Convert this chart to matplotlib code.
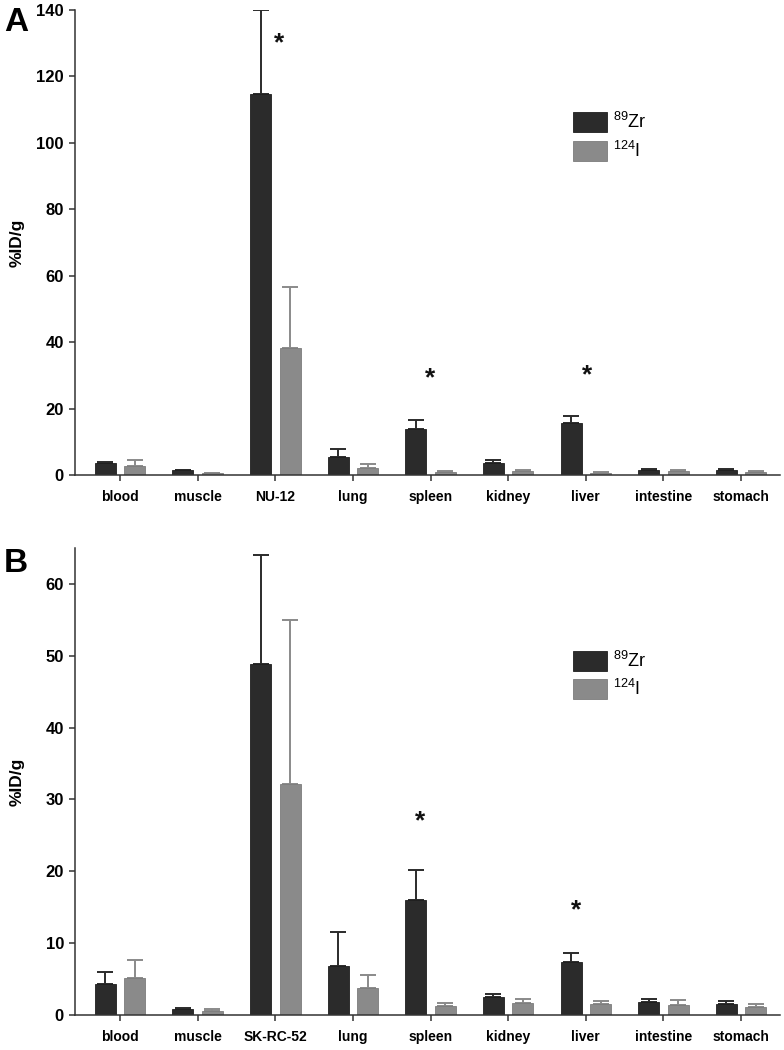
import numpy as np
import matplotlib
matplotlib.use("Agg")
import matplotlib.pyplot as plt

plt.rcParams['font.family'] = ['Liberation Sans', 'DejaVu Sans']
plt.rcParams['mathtext.fontset'] = 'custom'
plt.rcParams['mathtext.rm'] = 'Liberation Sans'

# panel A data
organs_a = ["blood", "muscle", "NU-12", "lung", "spleen", "kidney", "liver", "intestine", "stomach"]
zr_a = [3.7, 1.4, 114.8, 5.4, 13.8, 3.7, 15.8, 1.6, 1.6]
zr_a_err = [0.2, 0.1, 25.2, 2.3, 2.7, 0.8, 2.0, 0.1, 0.1]
i_a = [2.7, 0.6, 38.3, 2.0, 0.8, 1.1, 0.7, 1.1, 0.8]
i_a_err = [1.9, 0.1, 18.4, 1.4, 0.3, 0.4, 0.2, 0.3, 0.3]
stars_a = [(2.05, 130), (4, 29), (6.02, 30)]

# panel B data
organs_b = ["blood", "muscle", "SK-RC-52", "lung", "spleen", "kidney", "liver", "intestine", "stomach"]
zr_b = [4.3, 0.8, 48.8, 6.8, 16.0, 2.5, 7.4, 1.8, 1.6]
zr_b_err = [1.7, 0.2, 15.2, 4.8, 4.2, 0.4, 1.2, 0.5, 0.4]
i_b = [5.2, 0.6, 32.1, 3.7, 1.3, 1.7, 1.5, 1.4, 1.1]
i_b_err = [2.5, 0.2, 22.9, 1.9, 0.4, 0.5, 0.45, 0.65, 0.4]
stars_b = [(3.86, 27), (5.88, 14.6)]

dark = "#2b2b2b"
grey = "#8a8a8a"


def panel(ax, organs, zr, zr_err, iod, iod_err, stars, ymax, yticks):
    x = np.arange(len(organs))
    w = 0.27
    ax.bar(x - 0.19, zr, w, color=dark, edgecolor="#1e1e1e", linewidth=0.6, label=r"$^{89}$Zr", zorder=2)
    ax.bar(x + 0.19, iod, w, color=grey, edgecolor="#7c7c7c", linewidth=0.6, label=r"$^{124}$I", zorder=2)
    ax.errorbar(x - 0.19, zr, yerr=[np.zeros(len(zr)), zr_err], fmt="none", ecolor=dark,
                elinewidth=1.4, capsize=6, capthick=1.4, zorder=1)
    ax.errorbar(x + 0.19, iod, yerr=[np.zeros(len(iod)), iod_err], fmt="none", ecolor=grey,
                elinewidth=1.4, capsize=6, capthick=1.4, zorder=1)
    for sx, sy in stars:
        ax.text(sx, sy, "*", ha="center", va="center", fontsize=19, fontweight="bold", color="#111111")
    ax.set_xlim(-0.58, 8.5)
    ax.set_ylim(0, ymax)
    ax.set_yticks(yticks)
    ax.set_xticks(x)
    ax.set_xticklabels(organs, fontsize=10, fontweight="bold")
    for t in ax.get_yticklabels():
        t.set_fontweight("bold")
        t.set_fontsize(12)
    ax.set_ylabel("%ID/g", fontsize=12.5, fontweight="bold")
    ax.yaxis.set_label_coords(-0.071, 0.5)
    for s in ["top", "right"]:
        ax.spines[s].set_visible(False)
    for s in ["left", "bottom"]:
        ax.spines[s].set_color("#333333")
        ax.spines[s].set_linewidth(1.1)
    ax.tick_params(axis="both", direction="out", color="#333333", width=1.1, length=4)
    ax.tick_params(axis="x", pad=7)
    ax.tick_params(axis="y", pad=4)
    ax.legend(loc="upper left", bbox_to_anchor=(0.683, 0.815), frameon=False, fontsize=13,
              handlelength=1.9, handleheight=1.35, labelspacing=0.45, handletextpad=0.35)
    return ax


fig = plt.figure(figsize=(7.84, 10.5), dpi=100)
ax1 = fig.add_axes([0.0957, 0.5476, 0.899, 0.443])
ax2 = fig.add_axes([0.0957, 0.0333, 0.899, 0.4448])

panel(ax1, organs_a, zr_a, zr_a_err, i_a, i_a_err, stars_a, 140, np.arange(0, 141, 20))
panel(ax2, organs_b, zr_b, zr_b_err, i_b, i_b_err, stars_b, 65, np.arange(0, 61, 10))

fig.text(0.005, 0.993, "A", fontsize=24, fontweight="bold", va="top", ha="left")
fig.text(0.005, 0.478, "B", fontsize=24, fontweight="bold", va="top", ha="left")

fig.savefig("out.png", dpi=100)
